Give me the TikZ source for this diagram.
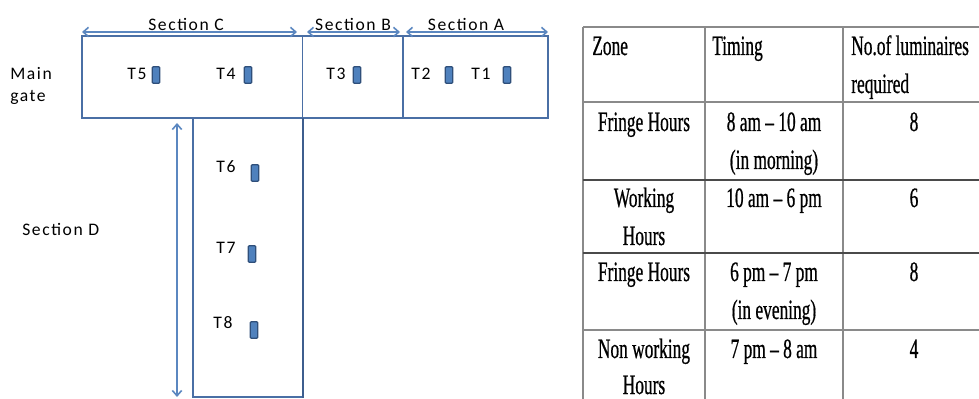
\documentclass[tikz,border=0pt]{standalone}
\usepackage{fontspec}
\setmainfont{Carlito}
\newfontfamily\tabfont[FakeStretch=0.62, FakeBold=0.6, Ligatures=TeX]{Liberation Serif}
\newfontfamily\planfont[LetterSpace=9]{Carlito}
\usetikzlibrary{arrows.meta}
\definecolor{wallblue}{HTML}{4A6FA5}
\definecolor{walldark}{HTML}{3D5E8E}
\definecolor{lampfill}{HTML}{4F81BD}
\definecolor{lampedge}{HTML}{2F4F7A}
\definecolor{arrowblue}{HTML}{5B87C0}
\definecolor{gridgray}{HTML}{8A8A8A}
\definecolor{griddark}{HTML}{4A4A4A}
\tikzset{
  wall/.style={draw=wallblue, line width=1.8pt},
  thinwall/.style={draw=wallblue, line width=0.7pt},
  heavywall/.style={draw=walldark, line width=2.2pt},
  lamp/.style={draw=lampedge, fill=lampfill, line width=0.9pt, rounded corners=0.8pt,
    minimum width=5.5pt, minimum height=12.5pt, inner sep=0pt},
  plantext/.style={font=\planfont\fontsize{13.2}{15}\selectfont, text=black, inner sep=0pt},
  dimarrow/.style={draw=arrowblue, line width=1.2pt, {Straight Barb[length=4pt,width=7pt]}-{Straight Barb[length=4pt,width=7pt]}},
  cell/.style={font=\tabfont\fontsize{21}{28.5}\selectfont, inner sep=0pt, anchor=base},
  rule/.style={draw=griddark, line width=0.8pt},
  lightrule/.style={draw=gridgray, line width=0.8pt}
}
\begin{document}
\begin{tikzpicture}[x=0.75pt, y=-0.75pt]
\useasboundingbox (0,0) rectangle (979,399);

% ---------------- site plan ----------------
% corridor along the gate (sections C, B, A)
\draw[wall] (82,36) rectangle (548,118);
\draw[thinwall] (302,36) -- (302,118);
\draw[heavywall, draw=wallblue] (403,36) -- (403,118);
% wing of section D: outer walls, the right one heavier
\draw[wall] (303,397) -- (193,397) -- (193,118);
\draw[heavywall, line cap=rect] (303,119) -- (303,397);

% section extents
\coordinate (c1) at (82,32);  \coordinate (c2) at (297,32);
\coordinate (b1) at (307,32); \coordinate (b2) at (400,32);
\coordinate (a1) at (406,32); \coordinate (a2) at (548,32);
\coordinate (d1) at (177,123); \coordinate (d2) at (177,397);
\draw[dimarrow] (c1) -- (c2);
\draw[dimarrow] (b1) -- (b2);
\draw[dimarrow] (a1) -- (a2);
\draw[dimarrow] (d1) -- (d2);

\node[plantext] (secC) at (186,24) {Section C};
\node[plantext] (secB) at (353,24) {Section B};
\node[plantext] (secA) at (466,24) {Section A};
\node[plantext, anchor=west] (secD) at (22,229) {Section D};
\node[plantext, anchor=west] (gate1) at (10,74) {Main};
\node[plantext, anchor=west] (gate2) at (10,97) {gate};

% luminaires
\node[lamp] (L5) at (156,75) {};
\node[lamp] (L4) at (248,75) {};
\node[lamp] (L3) at (357,75) {};
\node[lamp] (L2) at (449,75) {};
\node[lamp] (L1) at (507,75) {};
\node[lamp] (L6) at (255,173) {};
\node[lamp] (L7) at (252,254) {};
\node[lamp] (L8) at (254,330) {};

\node[plantext] (t5) at (137,74) {T5};
\node[plantext] (t4) at (226,74) {T4};
\node[plantext] (t3) at (336,74) {T3};
\node[plantext] (t2) at (421,74) {T2};
\node[plantext] (t1) at (481,74) {T1};
\node[plantext] (t6) at (226,167) {T6};
\node[plantext] (t7) at (226,248) {T7};
\node[plantext] (t8) at (223,323) {T8};

% ---------------- schedule table ----------------
\draw[lightrule] (583,27) -- (985,27);
\draw[lightrule] (583,27) -- (583,405);
\draw[lightrule] (705,27) -- (705,405);
\draw[lightrule] (843,27) -- (843,405);
\draw[lightrule] (583,102) -- (985,102);
\draw[rule] (583,180) -- (985,180);
\draw[rule] (583,253) -- (985,253);
\draw[lightrule] (583,330) -- (985,330);

\node[cell, anchor=base west] (hz) at (592,55) {Zone};
\node[cell, anchor=base west] (ht) at (712,55) {Timing};
\node[cell, anchor=base west] (hn) at (851,55) {No.of luminaires};
\node[cell, anchor=base west] (hr) at (851,93) {required};

\node[cell] (z1) at (644,131) {Fringe Hours};
\node[cell] (t1a) at (774,131) {8 am – 10 am};
\node[cell] (t1b) at (774,169) {(in morning)};
\node[cell] (n1) at (914,131) {8};

\node[cell] (z2a) at (644,207) {Working};
\node[cell] (z2b) at (644,245) {Hours};
\node[cell] (t2a) at (774,207) {10 am – 6 pm};
\node[cell] (n2) at (914,207) {6};

\node[cell] (z3) at (644,281) {Fringe Hours};
\node[cell] (t3a) at (774,281) {6 pm – 7 pm};
\node[cell] (t3b) at (774,319) {(in evening)};
\node[cell] (n3) at (914,281) {8};

\node[cell] (z4a) at (644,358) {Non working};
\node[cell] (z4b) at (644,394) {Hours};
\node[cell] (t4a) at (774,358) {7 pm – 8 am};
\node[cell] (n4) at (914,358) {4};
\end{tikzpicture}
\end{document}
